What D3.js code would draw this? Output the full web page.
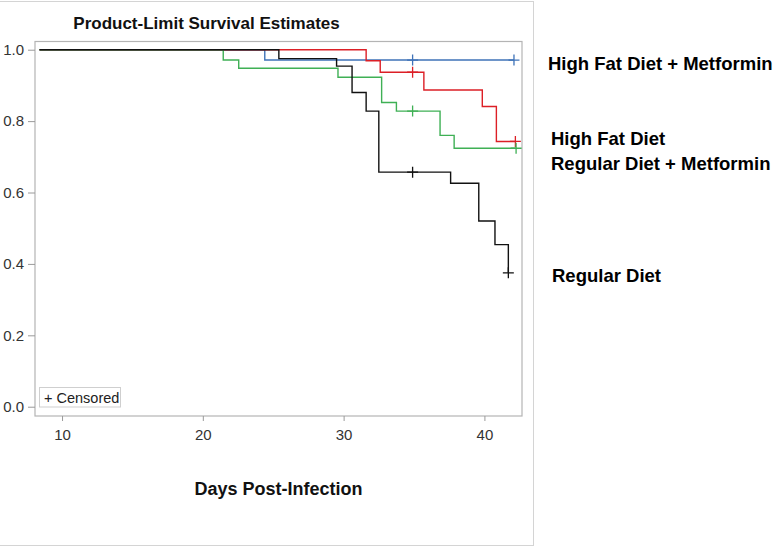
<!DOCTYPE html>
<html>
<head>
<meta charset="utf-8">
<script src="https://cdn.jsdelivr.net/npm/d3@7"></script>
<style>
  html, body { margin: 0; padding: 0; background: #fff; }
  svg { display: block; font-family: "Liberation Sans", Arial, sans-serif; }
</style>
</head>
<body>
<svg id="chart" width="775" height="548"></svg>
<script>
"use strict";

// ─── Data ─────────────────────────────────────────────────────────────────────
const groups = ["High Fat Diet + Metformin", "High Fat Diet", "Regular Diet + Metformin", "Regular Diet"];
const colors = ["#3f73b8", "#dc1f26", "#3fb055", "#111111"];
const startDay = 8.4;

// event days and survival after each event
const eventDays = [
  [24.4],
  [31.6, 32.6, 35.7, 39.85, 40.85],
  [21.45, 22.55, 29.6, 32.7, 33.75, 36.85, 37.85],
  [25.4, 29.5, 30.6, 31.6, 32.5, 37.6, 39.6, 40.75, 41.7],
];
const survival = [
  [0.971],
  [0.969, 0.937, 0.887, 0.841, 0.743],
  [0.971, 0.948, 0.923, 0.852, 0.828, 0.760, 0.724],
  [0.975, 0.954, 0.880, 0.828, 0.657, 0.626, 0.520, 0.454, 0.375],
];
// censored days (last one is the end of follow-up)
const censorDays = [
  [34.9, 42.1],
  [34.9, 42.2],
  [34.9, 42.25],
  [34.9, 41.7],
];

const xTicks = [10, 20, 30, 40];
const yTicks = [0, 0.2, 0.4, 0.6, 0.8, 1.0];

// right-hand group labels
const labelPos = [
  { text: groups[0], x: 548, y: 69.5 },
  { text: groups[1], x: 551, y: 145 },
  { text: groups[2], x: 551, y: 170 },
  { text: groups[3], x: 552, y: 281.5 },
];

// ─── Layout ───────────────────────────────────────────────────────────────────
const frame = { left: 35, right: 522, top: 41.5, bottom: 416 };
const svg = d3.select("#chart");

const x = d3.scaleLinear().domain([8.08, 42.67]).range([frame.left, frame.right]);
const y = d3.scaleLinear().domain([-0.026, 1.023]).range([frame.bottom, frame.top]);

// outer light border
svg.append("rect")
  .attr("x", -1).attr("y", 1.5)
  .attr("width", 534.5).attr("height", 544)
  .attr("fill", "none").attr("stroke", "#d4d4d4").attr("stroke-width", 1);

// title
svg.append("text")
  .attr("x", 206.5).attr("y", 29)
  .attr("text-anchor", "middle")
  .attr("font-size", 17).attr("font-weight", "bold")
  .attr("fill", "#111")
  .text("Product-Limit Survival Estimates");

// plot frame
svg.append("rect")
  .attr("x", frame.left).attr("y", frame.top)
  .attr("width", frame.right - frame.left).attr("height", frame.bottom - frame.top)
  .attr("fill", "#fff").attr("stroke", "#b4b4b4").attr("stroke-width", 1.2);

// axes
const xAxis = svg.append("g")
  .attr("transform", `translate(0,${frame.bottom})`)
  .call(d3.axisBottom(x).tickValues(xTicks).tickSize(5).tickPadding(8).tickFormat(d3.format("d")));
const yAxis = svg.append("g")
  .attr("transform", `translate(${frame.left},0)`)
  .call(d3.axisLeft(y).tickValues(yTicks).tickSize(7).tickPadding(4).tickFormat(d3.format(".1f")));

[xAxis, yAxis].forEach((g) => {
  g.select(".domain").remove();
  g.selectAll(".tick line").attr("stroke", "#9a9a9a");
  g.selectAll(".tick text")
    .attr("font-size", 15)
    .attr("font-family", "\"Liberation Sans\", Arial, sans-serif")
    .attr("fill", "#333");
});

// x axis title
svg.append("text")
  .attr("x", (frame.left + frame.right) / 2).attr("y", 494.5)
  .attr("text-anchor", "middle")
  .attr("font-size", 18).attr("font-weight", "bold")
  .attr("fill", "#111")
  .text("Days Post-Infection");

// ─── Survival curves ──────────────────────────────────────────────────────────
const line = d3.line()
  .x((d) => x(d[0]))
  .y((d) => y(d[1]))
  .curve(d3.curveStepAfter);

function survAt(i, t) {
  let s = 1;
  eventDays[i].forEach((e, k) => { if (e <= t) s = survival[i][k]; });
  return s;
}

const plot = svg.append("g");
const arm = 5.5;

groups.forEach((name, i) => {
  const pts = [[startDay, 1]];
  eventDays[i].forEach((t, k) => pts.push([t, survival[i][k]]));
  const endDay = d3.max(censorDays[i]);
  pts.push([endDay, survAt(i, endDay)]);

  plot.append("path")
    .datum(pts)
    .attr("d", line)
    .attr("fill", "none")
    .attr("stroke", colors[i])
    .attr("stroke-width", 1.4);

  plot.selectAll(null)
    .data(censorDays[i])
    .join("path")
    .attr("d", (t) => {
      const cx = x(t), cy = y(survAt(i, t));
      return `M${cx - arm},${cy}H${cx + arm}M${cx},${cy - arm}V${cy + arm}`;
    })
    .attr("fill", "none")
    .attr("stroke", colors[i])
    .attr("stroke-width", 1.3);
});

// legend box
const lg = svg.append("g");
lg.append("rect")
  .attr("x", 39.5).attr("y", 387.5)
  .attr("width", 81).attr("height", 19.5)
  .attr("fill", "#fff").attr("stroke", "#cfcfcf");
lg.append("text")
  .attr("x", 44).attr("y", 402.5)
  .attr("font-size", 14.5)
  .attr("fill", "#222")
  .text("+ Censored");

// group labels on the right
svg.selectAll("text.group")
  .data(labelPos)
  .join("text")
  .attr("class", "group")
  .attr("x", (d) => d.x).attr("y", (d) => d.y)
  .attr("font-size", 18.5).attr("font-weight", "bold")
  .attr("fill", "#000")
  .text((d) => d.text);
</script>
</body>
</html>
